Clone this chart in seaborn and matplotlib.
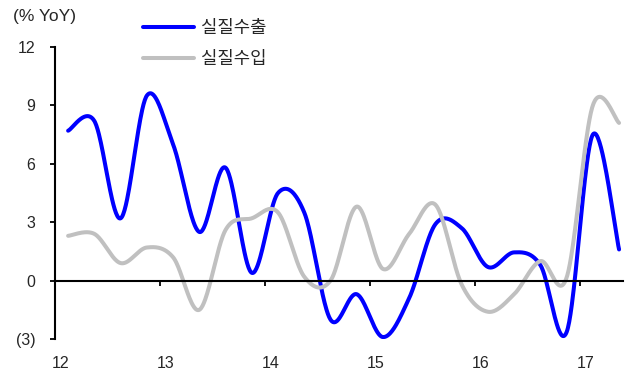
import numpy as np
import pandas as pd
import matplotlib
matplotlib.use("Agg")
import matplotlib.pyplot as plt
import seaborn as sns

# Quarterly YoY growth, 2012Q1 - 2017Q2
quarters = [f"{y}Q{q}" for y in range(12, 18) for q in range(1, 5)][:22]
real_exports = [7.7, 8.2, 3.2, 9.5, 7.0, 2.5, 5.8, 0.4, 4.5, 3.5, -2.0, -0.7,
                -2.9, -0.9, 2.9, 2.7, 0.7, 1.45, 0.8, -2.65, 7.5, 1.6]
real_imports = [2.3, 2.4, 0.9, 1.7, 1.2, -1.5, 2.6, 3.2, 3.5, 0.2, 0.0, 3.8,
                0.6, 2.4, 3.9, -0.2, -1.6, -0.7, 1.0, 0.15, 9.0, 8.1]
series_names = ["실질수출", "실질수입"]
series_colors = ["#0000FF", "#C0C0C0"]
year_labels = ["12", "13", "14", "15", "16", "17"]
y_ticks = [-3, 0, 3, 6, 9, 12]
y_tick_labels = ["(3)", "0", "3", "6", "9", "12"]


def smooth_curve(values, n=40):
    """Cubic Bezier smoothing through every point (spreadsheet-style smoothed line)."""
    pts = np.column_stack([np.arange(len(values), dtype=float), np.asarray(values, float)])
    padded = np.vstack([pts[0], pts, pts[-1]])
    segs = []
    for i in range(len(pts) - 1):
        p0, p1, p2, p3 = padded[i], padded[i + 1], padded[i + 2], padded[i + 3]
        c1 = p1 + (p2 - p0) / 6.0
        c2 = p2 - (p3 - p1) / 6.0
        t = np.linspace(0, 1, n, endpoint=(i == len(pts) - 2))[:, None]
        segs.append((1 - t) ** 3 * p1 + 3 * (1 - t) ** 2 * t * c1
                    + 3 * (1 - t) * t ** 2 * c2 + t ** 3 * p2)
    return np.vstack(segs)


frames = []
for name, vals in zip(series_names, [real_exports, real_imports]):
    curve = smooth_curve(vals)
    frames.append(pd.DataFrame({"x": curve[:, 0], "y": curve[:, 1], "series": name}))
df = pd.concat(frames, ignore_index=True)

sns.set_style("white")
plt.rcParams["font.family"] = ["Liberation Sans", "Noto Sans CJK KR"]

fig = plt.figure(figsize=(6.34, 3.73), dpi=100)
ax = fig.add_axes([55 / 634, 1 - 339 / 373, (623 - 55) / 634, (339 - 47) / 373])

sns.lineplot(data=df, x="x", y="y", hue="series", hue_order=series_names,
             palette=series_colors, sort=False, estimator=None,
             linewidth=2.9, ax=ax, legend=True)

ax.set_xlim(-0.5, 21.15)
ax.set_ylim(-3, 12)
ax.set_xlabel("")
ax.set_ylabel("")

# y axis
ax.set_yticks(y_ticks, labels=y_tick_labels)
ax.tick_params(axis="y", direction="out", length=3.8, width=1.3, color="black",
               pad=10.5, labelsize=11.5, left=True)
ax.spines["left"].set_linewidth(1.5)
ax.spines["left"].set_color("black")
for s in ["top", "right"]:
    ax.spines[s].set_visible(False)

# zero line carrying the year tick marks
ax.spines["bottom"].set_position(("data", 0))
ax.spines["bottom"].set_linewidth(1.5)
ax.spines["bottom"].set_color("black")
boundaries = [-0.5 + 4 * k for k in range(6)]
ax.set_xticks(boundaries, labels=[""] * len(boundaries))
ax.tick_params(axis="x", direction="out", length=3.8, width=1.3, color="black", bottom=True)

# year labels along the bottom of the plot area
sec = ax.secondary_xaxis("bottom")
sec.set_xticks([b + 0.23 for b in boundaries], labels=year_labels)
sec.tick_params(length=0, pad=12, labelsize=11.5)
sec.spines["bottom"].set_visible(False)

fig.text(13 / 634, 1 - 17 / 373, "(% YoY)", ha="left", va="center", fontsize=12.5)

handles, labels = ax.get_legend_handles_labels()
ax.legend(handles, labels, loc="upper left", bbox_to_anchor=(136 / 634, 1 - 13 / 373),
          bbox_transform=fig.transFigure, frameon=False, fontsize=12.8,
          handlelength=2.85, handletextpad=0.42, labelspacing=0.78, borderaxespad=0)

fig.savefig("out.png", dpi=100)
